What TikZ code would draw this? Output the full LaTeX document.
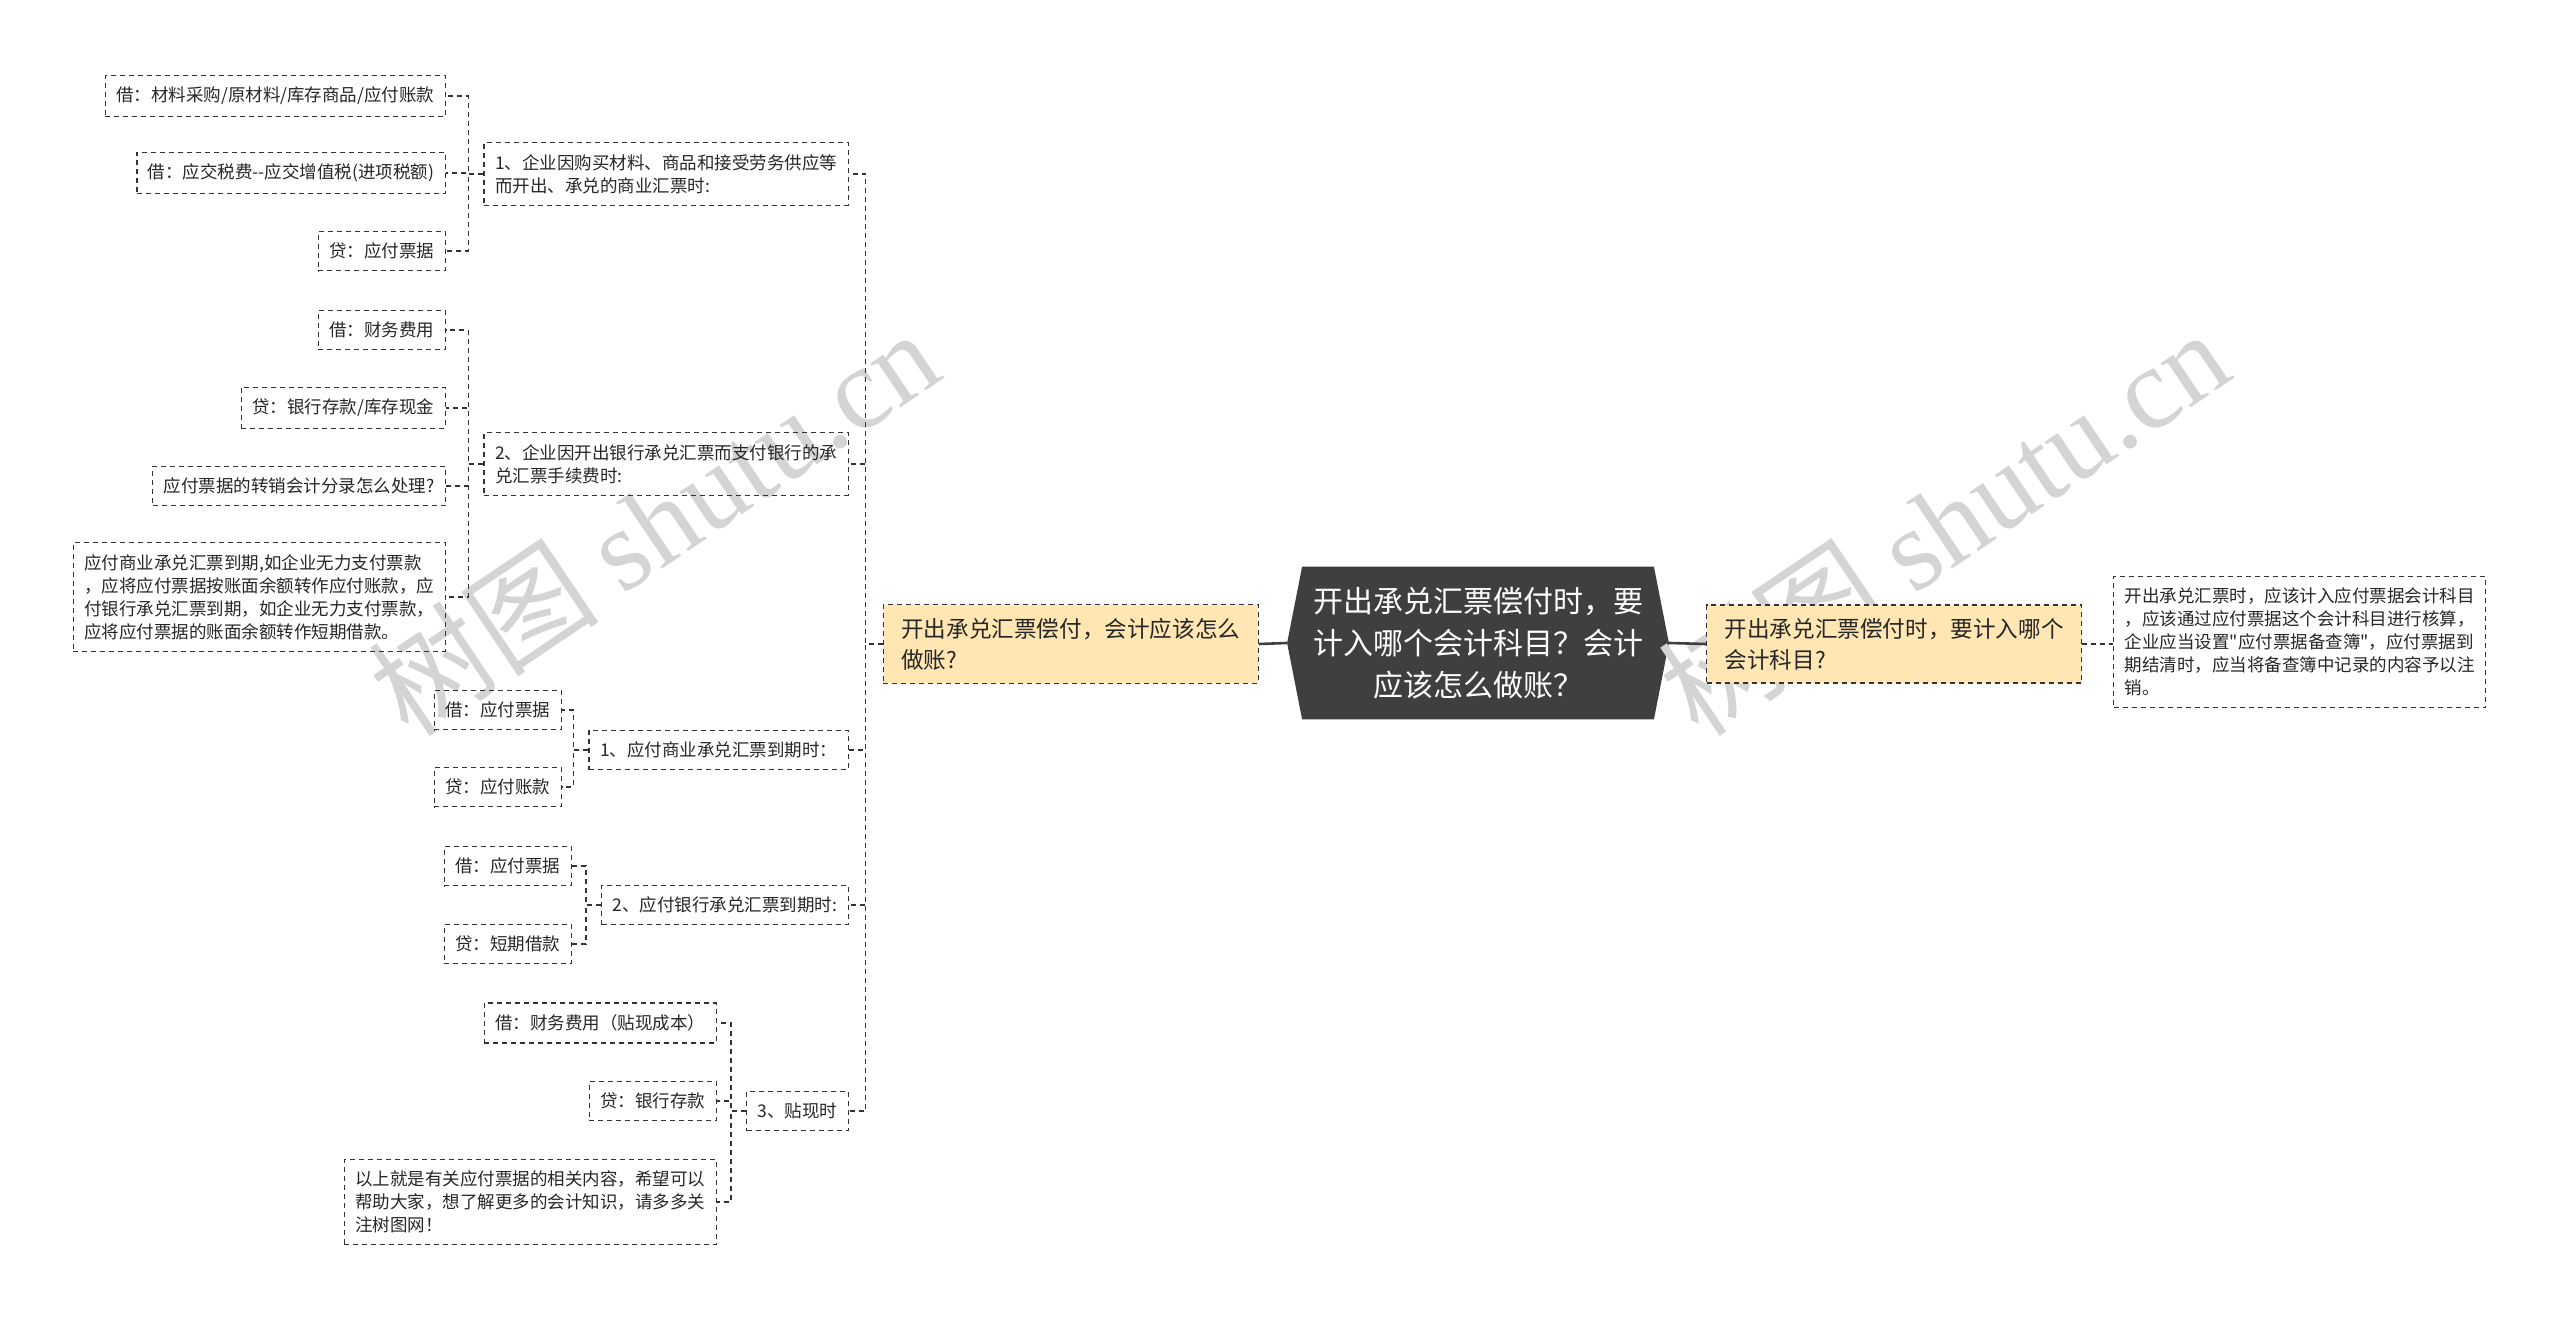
\documentclass[tikz,border=0pt]{standalone}
\usepackage{fontspec}
\setmainfont{Noto Sans CJK SC}[Ligatures=TeXOff]
\newfontfamily\wmfont{Liberation Serif}
\usetikzlibrary{backgrounds}

\newlength{\du}
\setlength{\du}{0.5pt}
\definecolor{linecolor}{HTML}{333333}
\definecolor{topicfill}{HTML}{FFE6B3}
\definecolor{rootfill}{HTML}{3F3F3F}
\definecolor{markcolor}{HTML}{D4D4D4}

\tikzset{
  leaf/.style={draw=linecolor, line width=0.7pt, dash pattern=on 2.5pt off 2pt,
    inner xsep=5.5pt, inner ysep=5.8pt, align=left, text=black!85,
    font=\fontsize{8.75pt}{11.5pt}\selectfont},
  topic/.style={leaf, fill=topicfill, inner xsep=9pt, inner ysep=6.6pt,
    font=\fontsize{11.3pt}{15.5pt}\selectfont},
  root/.style={align=center, text=white, inner sep=0pt,
    minimum width=351\du, minimum height=152\du,
    font=\fontsize{15pt}{21pt}\selectfont},
  link/.style={draw=linecolor, line width=0.7pt, dash pattern=on 2.5pt off 2pt},
  trunk/.style={draw=rootfill, line width=1.3pt},
  watermark/.style={text=markcolor, rotate=34, font=\fontsize{58pt}{58pt}\selectfont}
}

\begin{document}
\begin{tikzpicture}
\pgftransformxscale{1.000000}
\pgftransformyscale{-1.000000}
\useasboundingbox (0\du,0\du) rectangle (2560\du,1320\du);

% watermarks
\node[watermark] (wm1) at (653\du,522\du) {树图 {\wmfont shutu.cn}};
\node[watermark] (wm2) at (1943\du,522\du) {树图 {\wmfont shutu.cn}};

% root
\node[root] (root) at (1478\du,643\du) {开出承兑汇票偿付时，要\\计入哪个会计科目？会计\\应该怎么做账？};
\begin{scope}[on background layer]
\fill[rootfill] (root.north west) -- ([xshift=-15\du]root.west) -- (root.south west)
  -- (root.south east) -- ([xshift=15\du]root.east) -- (root.north east) -- cycle;
\end{scope}

% topics
\node[topic, anchor=east] (left) at (1259\du,644\du) {开出承兑汇票偿付，会计应该怎么\\做账?};
\node[topic, anchor=west] (right) at (1706\du,644\du) {开出承兑汇票偿付时，要计入哪个\\会计科目?};
\node[leaf, anchor=west] (rnote) at (2113\du,642\du) {开出承兑汇票时，应该计入应付票据会计科目\\，应该通过应付票据这个会计科目进行核算，\\企业应当设置"应付票据备查簿"，应付票据到\\期结清时，应当将备查簿中记录的内容予以注\\销。};

% second level
\node[leaf, anchor=east] (buy) at (849\du,174\du) {1、企业因购买材料、商品和接受劳务供应等\\而开出、承兑的商业汇票时:};
\node[leaf, anchor=east] (fee) at (849\du,464\du) {2、企业因开出银行承兑汇票而支付银行的承\\兑汇票手续费时:};
\node[leaf, anchor=east] (duecom) at (849\du,750\du) {1、应付商业承兑汇票到期时：};
\node[leaf, anchor=east] (duebank) at (849\du,905\du) {2、应付银行承兑汇票到期时:};
\node[leaf, anchor=east] (disc) at (849\du,1111\du) {3、贴现时};

% third level
\node[leaf, anchor=east] (buya) at (446\du,96\du) {借：材料采购/原材料/库存商品/应付账款};
\node[leaf, anchor=east] (buyb) at (446\du,173\du) {借：应交税费-{}-应交增值税(进项税额)};
\node[leaf, anchor=east] (buyc) at (446\du,251\du) {贷：应付票据};
\node[leaf, anchor=east] (feea) at (446\du,330\du) {借：财务费用};
\node[leaf, anchor=east] (feeb) at (446\du,408\du) {贷：银行存款/库存现金};
\node[leaf, anchor=east] (feec) at (446\du,486\du) {应付票据的转销会计分录怎么处理?};
\node[leaf, anchor=east] (feed) at (446\du,597\du) {应付商业承兑汇票到期,如企业无力支付票款\\，应将应付票据按账面余额转作应付账款，应\\付银行承兑汇票到期，如企业无力支付票款，\\应将应付票据的账面余额转作短期借款。};
\node[leaf, anchor=east] (duecoma) at (562\du,710\du) {借：应付票据};
\node[leaf, anchor=east] (duecomb) at (562\du,787\du) {贷：应付账款};
\node[leaf, anchor=east] (duebanka) at (572\du,866\du) {借：应付票据};
\node[leaf, anchor=east] (duebankb) at (572\du,944\du) {贷：短期借款};
\node[leaf, anchor=east] (disca) at (717\du,1023\du) {借：财务费用（贴现成本）};
\node[leaf, anchor=east] (discb) at (717\du,1101\du) {贷：银行存款};
\node[leaf, anchor=east] (discc) at (717\du,1202\du) {以上就是有关应付票据的相关内容，希望可以\\帮助大家，想了解更多的会计知识，请多多关\\注树图网！};

% root links
\draw[trunk] ([xshift=-15\du]root.west) -- (left.east);
\draw[trunk] ([xshift=15\du]root.east) -- (right.west);
\draw[link] (right.east) -- (right.east -| rnote.west);

% left branch
\foreach \n in {buy,fee,duecom,duebank,disc}
  \draw[link] (left.west) -- ++(-17\du,0) |- (\n.east);
\foreach \n in {buya,buyb,buyc}
  \draw[link] (buy.west) -- ++(-15\du,0) |- (\n.east);
\foreach \n in {feea,feeb,feec,feed}
  \draw[link] (fee.west) -- ++(-15\du,0) |- (\n.east);
\foreach \n in {duecoma,duecomb}
  \draw[link] (duecom.west) -- ++(-15\du,0) |- (\n.east);
\foreach \n in {duebanka,duebankb}
  \draw[link] (duebank.west) -- ++(-15\du,0) |- (\n.east);
\foreach \n in {disca,discb,discc}
  \draw[link] (disc.west) -- ++(-15\du,0) |- (\n.east);
\end{tikzpicture}
\end{document}
